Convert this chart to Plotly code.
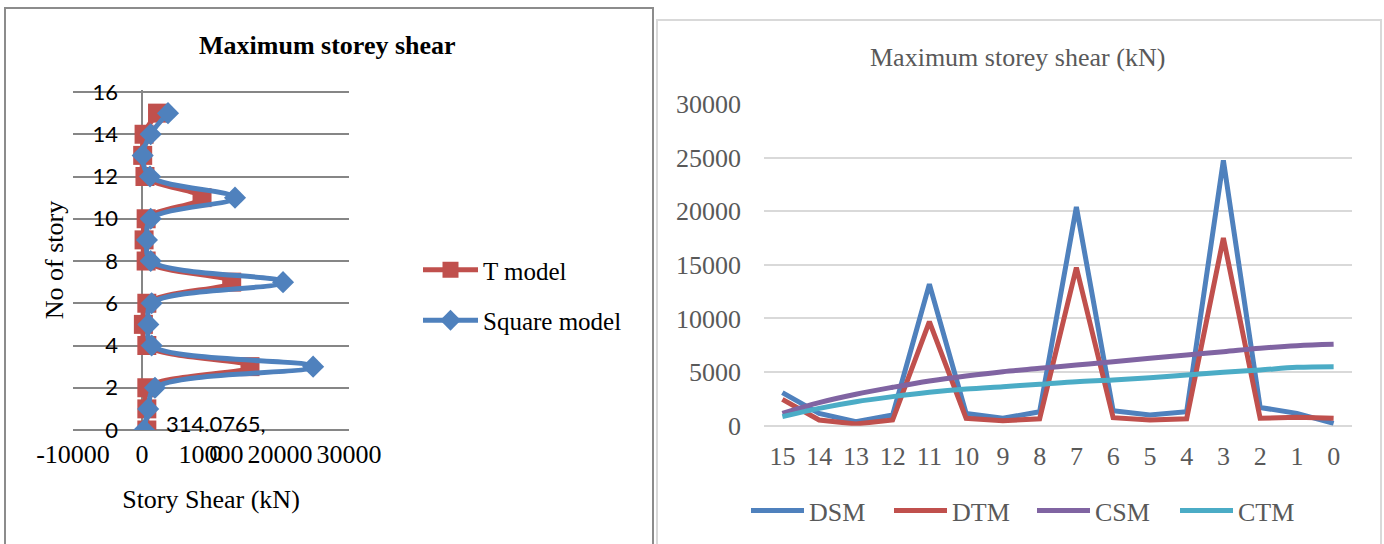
import plotly.graph_objects as go

W, H = 1384, 544

# ---------------- data ----------------
stories = list(range(16))  # 0..15
t_model = [700, 700, 700, 15650, 700, 200, 700, 13000, 600, 300, 600, 8700, 430, 100, 300, 2250]
square_model = [314.0765, 900, 1880, 24800, 1400, 920, 1400, 20440, 1260, 720, 1260, 13480, 1160, 100, 1260, 3770]

storey_labels = ["15", "14", "13", "12", "11", "10", "9", "8", "7", "6", "5", "4", "3", "2", "1", "0"]
dsm = [3080, 1150, 370, 1000, 13200, 1150, 690, 1300, 20400, 1400, 1000, 1300, 24750, 1700, 1150, 220]
dtm = [2460, 530, 160, 530, 9700, 690, 470, 640, 14750, 750, 530, 640, 17500, 690, 780, 690]
csm = [1150, 2150, 2930, 3580, 4170, 4640, 5040, 5350, 5660, 5970, 6290, 6600, 6900, 7220, 7460, 7590]
ctm = [840, 1620, 2240, 2710, 3110, 3420, 3640, 3860, 4100, 4260, 4480, 4730, 4980, 5200, 5440, 5500]

left_x_ticks = [-10000, 0, 10000, 20000, 30000]
left_y_ticks = [0, 2, 4, 6, 8, 10, 12, 14, 16]
right_y_ticks = [0, 5000, 10000, 15000, 20000, 25000, 30000]

# ---------------- helpers ----------------
def px(x):
    return x / W

def py(y):
    return 1 - y / H

SERIF = "Liberation Serif, Times New Roman, serif"
SANS = "Lato, Calibri, sans-serif"
BLUE = "#4F81BD"
RED = "#C0504D"
PURPLE = "#8064A2"
CYAN = "#4BACC6"

fig = go.Figure()

# Left chart traces
fig.add_trace(go.Scatter(
    x=t_model, y=stories, name="T model", mode="lines+markers",
    line=dict(color=RED, width=5, shape="spline", smoothing=1.0),
    marker=dict(symbol="square", size=19, color=RED),
    xaxis="x", yaxis="y", legend="legend", legendgroup="a",
))
fig.add_trace(go.Scatter(
    x=square_model, y=stories, name="Square model", mode="lines+markers",
    line=dict(color=BLUE, width=5, shape="spline", smoothing=1.0),
    marker=dict(symbol="diamond", size=17, color=BLUE),
    xaxis="x", yaxis="y", legend="legend", legendgroup="b",
))

# Right chart traces
for name, vals, col, shape in [("DSM", dsm, BLUE, "linear"), ("DTM", dtm, RED, "linear"),
                               ("CSM", csm, PURPLE, "spline"), ("CTM", ctm, CYAN, "spline")]:
    fig.add_trace(go.Scatter(
        x=storey_labels, y=vals, name=name, mode="lines",
        line=dict(color=col, width=5, shape=shape),
        xaxis="x2", yaxis="y2", legend="legend2",
    ))

fig.update_layout(
    width=W, height=H,
    margin=dict(l=0, r=0, t=0, b=0, autoexpand=False),
    paper_bgcolor="white", plot_bgcolor="white",
    showlegend=True,
    xaxis=dict(
        domain=[px(73), px(349)], range=[-10000, 30000],
        tickvals=left_x_ticks, ticktext=[str(v) for v in left_x_ticks], tickangle=0,
        tickfont=dict(family=SERIF, size=26, color="black"),
        showgrid=False, zeroline=True, zerolinecolor="#868686", zerolinewidth=1.5,
        showline=False, ticks="", ticklabelstandoff=6, automargin=False,
        title=dict(text="Story Shear (kN)", font=dict(family=SERIF, size=26, color="black"), standoff=21),
        anchor="y",
    ),
    yaxis=dict(
        domain=[py(430), py(89.9)], range=[0, 16.1],
        tickvals=left_y_ticks,
        tickfont=dict(family=SANS, size=22, color="black"),
        showgrid=True, gridcolor="#868686", gridwidth=1.5,
        zeroline=True, zerolinecolor="#868686", zerolinewidth=1.5,
        anchor="x", ticks="", ticklabelstandoff=-46, automargin=False,
        title=dict(text="No of story", font=dict(family=SERIF, size=26, color="black"), standoff=21),
    ),
    xaxis2=dict(
        domain=[px(764), px(1352)], type="category", range=[-0.5, 15.5],
        categoryorder="array", categoryarray=storey_labels, tickangle=0,
        tickfont=dict(family=SERIF, size=26, color="#595959"),
        showgrid=False, zeroline=False, showline=False, ticks="", ticklabelstandoff=12,
        automargin=False, anchor="y2",
    ),
    yaxis2=dict(
        domain=[py(425.7), py(104)], range=[0, 30000],
        tickvals=right_y_ticks, ticktext=[str(v) for v in right_y_ticks],
        tickfont=dict(family=SERIF, size=26, color="#595959"),
        showgrid=True, gridcolor="#d9d9d9", gridwidth=1.5,
        zeroline=True, zerolinecolor="#d9d9d9", zerolinewidth=1.5,
        showline=False, ticks="", ticklabelstandoff=22, automargin=False,
        anchor="x2",
    ),
    legend=dict(
        x=px(418), y=py(247), xanchor="left", yanchor="top",
        font=dict(family=SERIF, size=25, color="black"),
        bgcolor="rgba(0,0,0,0)", tracegroupgap=15, itemwidth=55,
    ),
    legend2=dict(
        x=px(746), y=py(487), xanchor="left", yanchor="top", orientation="h",
        font=dict(family=SERIF, size=26, color="#595959"),
        bgcolor="rgba(0,0,0,0)", itemwidth=53, entrywidth=75,
    ),
    annotations=[
        dict(text="<b>Maximum storey shear</b>", x=px(327), y=py(45), xref="paper", yref="paper",
             xanchor="center", yanchor="middle", showarrow=False,
             font=dict(family=SERIF, size=26, color="black")),
        dict(text="Maximum storey shear (kN)", x=px(1017), y=py(58), xref="paper", yref="paper",
             xanchor="center", yanchor="middle", showarrow=False,
             font=dict(family=SERIF, size=26, color="#595959")),
        dict(text="314.0765,<br>0", x=square_model[0], y=stories[0], xref="x", yref="y",
             xanchor="left", yanchor="middle", xshift=20, yshift=-8, align="center", showarrow=False,
             font=dict(family=SANS, size=22, color="black")),
    ],
    shapes=[
        dict(type="rect", xref="paper", yref="paper", x0=px(5), x1=px(653), y0=py(560), y1=py(8),
             line=dict(color="#8c8c8c", width=2), layer="below"),
        dict(type="rect", xref="paper", yref="paper", x0=px(657), x1=px(1381), y0=py(560), y1=py(20),
             line=dict(color="#d9d9d9", width=2), layer="below"),
    ],
)

fig.write_html(
    "out.html",
    config={"displayModeBar": False},
    post_script="document.body.style.margin='0';document.body.style.overflow='hidden';",
)
